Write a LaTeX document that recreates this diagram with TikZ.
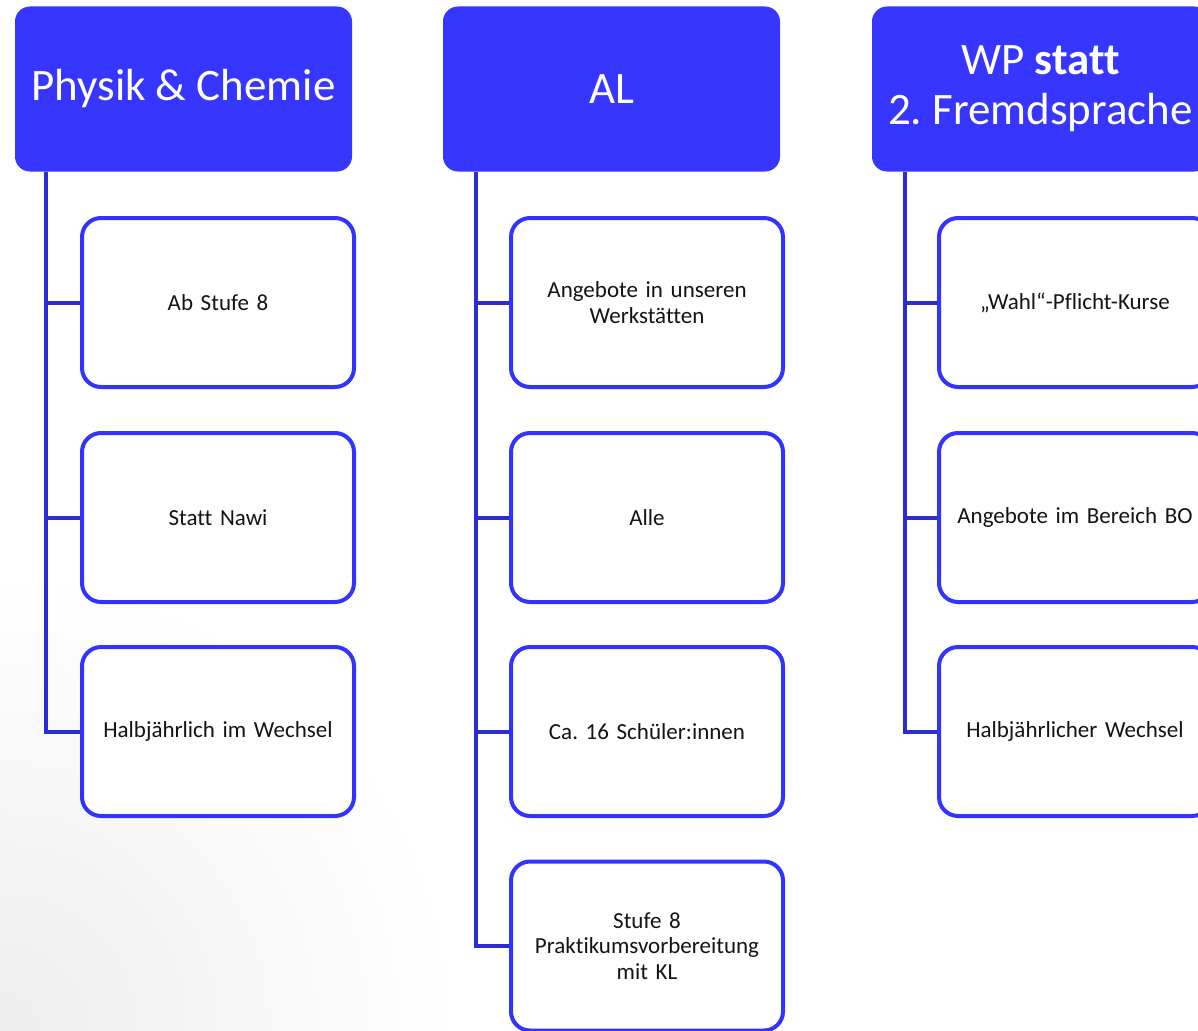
\documentclass[tikz,border=0pt]{standalone}
\usepackage{fontspec}
\setmainfont{Carlito}[Ligatures=NoCommon]
\usepackage{xcolor}
\definecolor{headblue}{RGB}{54,54,255}
\definecolor{boxblue}{RGB}{51,51,255}
\definecolor{lineblue}{RGB}{44,44,208}
\definecolor{textgray}{RGB}{20,20,20}
\tikzset{
  head/.style={fill=headblue, rounded corners=15pt, minimum width=337pt, minimum height=165pt,
    inner sep=0pt, text=white, align=center, font=\fontsize{45}{50}\selectfont},
  item/.style={draw=boxblue, line width=4pt, fill=white, rounded corners=19pt, minimum width=272pt,
    minimum height=169pt, inner sep=0pt, text width=262pt, align=center, text=textgray,
    font=\fontsize{23}{25.5}\selectfont},
  branch/.style={draw=lineblue, line width=4pt}
}

\begin{document}
\frenchspacing
\begin{tikzpicture}[x=1pt, y=-1pt]
  \clip (0,0) rectangle (1198,1030);
  \shade[inner color=black!7, outer color=white] (0,1030) circle (460);

  % headers
  \node[head] (phys) at (183.5,89) {Physik \& Chemie};
  \node[head] (al) at (611.5,89) {AL};
  \node[head] (wp) at (1040.5,89) {WP \textbf{statt}\\2. Fremdsprache};

  % Physik & Chemie
  \node[item] (phys1) at (218,302.5) {Ab Stufe 8};
  \node[item] (phys2) at (218,517.5) {Statt Nawi};
  \node[item] (phys3) at (218,731.5) {Halbjährlich im Wechsel};

  % AL
  \node[item] (al1) at (647,302.5) {Angebote in unseren\\Werkstätten};
  \node[item] (al2) at (647,517.5) {Alle};
  \node[item] (al3) at (647,731.5) {Ca. 16 Schüler:innen};
  \node[item] (al4) at (647,946) {Stufe 8\\Praktikumsvorbereitung\\mit KL};

  % WP
  \node[item] (wp1) at (1075,302.5) {„Wahl“-Pflicht-Kurse};
  \node[item] (wp2) at (1075,517.5) {Angebote im Bereich BO};
  \node[item] (wp3) at (1075,731.5) {Halbjährlicher Wechsel};

  % trunks
  \coordinate (physT) at (46,172);
  \coordinate (alT) at (476,172);
  \coordinate (wpT) at (905,172);
  \draw[branch] (physT) |- (phys3.west);
  \draw[branch] (physT |- phys1.west) -- (phys1.west);
  \draw[branch] (physT |- phys2.west) -- (phys2.west);
  \draw[branch] (alT) |- (al4.west);
  \draw[branch] (alT |- al1.west) -- (al1.west);
  \draw[branch] (alT |- al2.west) -- (al2.west);
  \draw[branch] (alT |- al3.west) -- (al3.west);
  \draw[branch] (wpT) |- (wp3.west);
  \draw[branch] (wpT |- wp1.west) -- (wp1.west);
  \draw[branch] (wpT |- wp2.west) -- (wp2.west);
\end{tikzpicture}
\end{document}
